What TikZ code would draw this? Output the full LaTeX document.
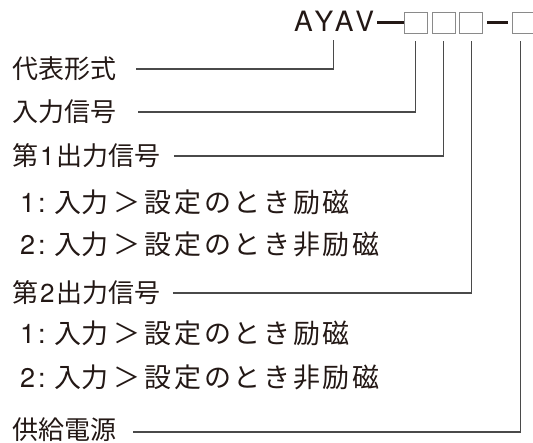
\documentclass[tikz,border=0pt]{standalone}
\usepackage{fontspec}
\setmainfont{TeX Gyre Heros}
\newfontfamily\jp{Noto Sans CJK JP}
\newfontfamily\jpls[LetterSpace=10]{Noto Sans CJK JP}
\newfontfamily\titlefont[Kerning=Off,LetterSpace=6]{TeX Gyre Heros}
\definecolor{ink}{HTML}{231815}
\definecolor{boxgray}{HTML}{8A8A8A}
\definecolor{linegray}{HTML}{4A4A4A}
\newcommand{\subline}[2]{{\rmfamily #1}\hspace{3pt}:\hspace{9pt}{\jp 入力}\hspace{5pt}{\jp ＞}\hspace{4pt}{\jpls #2}}
\begin{document}
\begin{tikzpicture}[x=1pt,y=-1pt,
  head/.style={anchor=base west,inner sep=0pt,font=\fontsize{26}{26}\selectfont\jp,text=ink},
  sub/.style={anchor=base west,inner sep=0pt,font=\fontsize{27}{27}\selectfont,text=ink},
  codebox/.style={draw=boxgray,line width=1.2pt,minimum width=23pt,minimum height=21pt,inner sep=0pt,anchor=north west},
  conn/.style={draw=linegray,line width=1.1pt},
  dashbar/.style={draw=ink,line width=2.6pt}]
\useasboundingbox (0,0) rectangle (533,443);
% title
\node[anchor=base west,inner sep=0pt,font=\fontsize{28}{28}\selectfont\titlefont,text=ink] (ayav) at (294,32) {AYAV};
\node[codebox] (b1) at (403.5,12) {};
\node[codebox] (b2) at (431.5,12) {};
\node[codebox] (b3) at (459,12) {};
\node[codebox,minimum width=24pt] (b4) at (512,12) {};
\coordinate (d1s) at ([yshift=9.5pt]ayav.base east);
\draw[dashbar] ([xshift=377pt]d1s -| 0,0) -- (b1.west |- d1s);
\draw[dashbar] ([xshift=4pt,yshift=0.5pt]b3.east) -- ([xshift=-4pt,yshift=0.5pt]b4.west);
% anchor points of the connectors
\coordinate (v1) at ([xshift=-1pt,yshift=-8pt]ayav.base);
\coordinate (v2) at ([yshift=-7pt]b1.south);
\coordinate (v3) at ([yshift=-7pt]b2.south);
\coordinate (v4) at ([yshift=-7pt]b3.south);
\coordinate (v5) at ([xshift=-4pt,yshift=-7pt]b4.south);
% labels
\node[head] (l1) at (12,79) {代表形式};
\node[head] (l2) at (12,122) {入力信号};
\node[head] (l3) at (12,166) {第{\rmfamily\hspace{2pt}1\hspace{2pt}}出力信号};
\node[sub]  (s1) at (20,213) {\subline{1}{設定のとき励磁}};
\node[sub]  (s2) at (20,255) {\subline{2}{設定のとき非励磁}};
\node[head] (l4) at (12,303) {第{\rmfamily\hspace{2pt}2\hspace{2pt}}出力信号};
\node[sub]  (s3) at (20,344) {\subline{1}{設定のとき励磁}};
\node[sub]  (s4) at (20,388) {\subline{2}{設定のとき非励磁}};
\node[head] (l5) at (12,440) {供給電源};
% connectors
\draw[conn] ([xshift=20pt,yshift=10pt]l1.base east) -| (v1);
\draw[conn] ([xshift=22pt,yshift=10pt]l2.base east) -| (v2);
\draw[conn] ([xshift=13pt,yshift=10pt]l3.base east) -| (v3);
\draw[conn] ([xshift=12pt,yshift=10pt]l4.base east) -| (v4);
\draw[conn] ([xshift=17pt,yshift=8pt]l5.base east) -| (v5);
\end{tikzpicture}
\end{document}
